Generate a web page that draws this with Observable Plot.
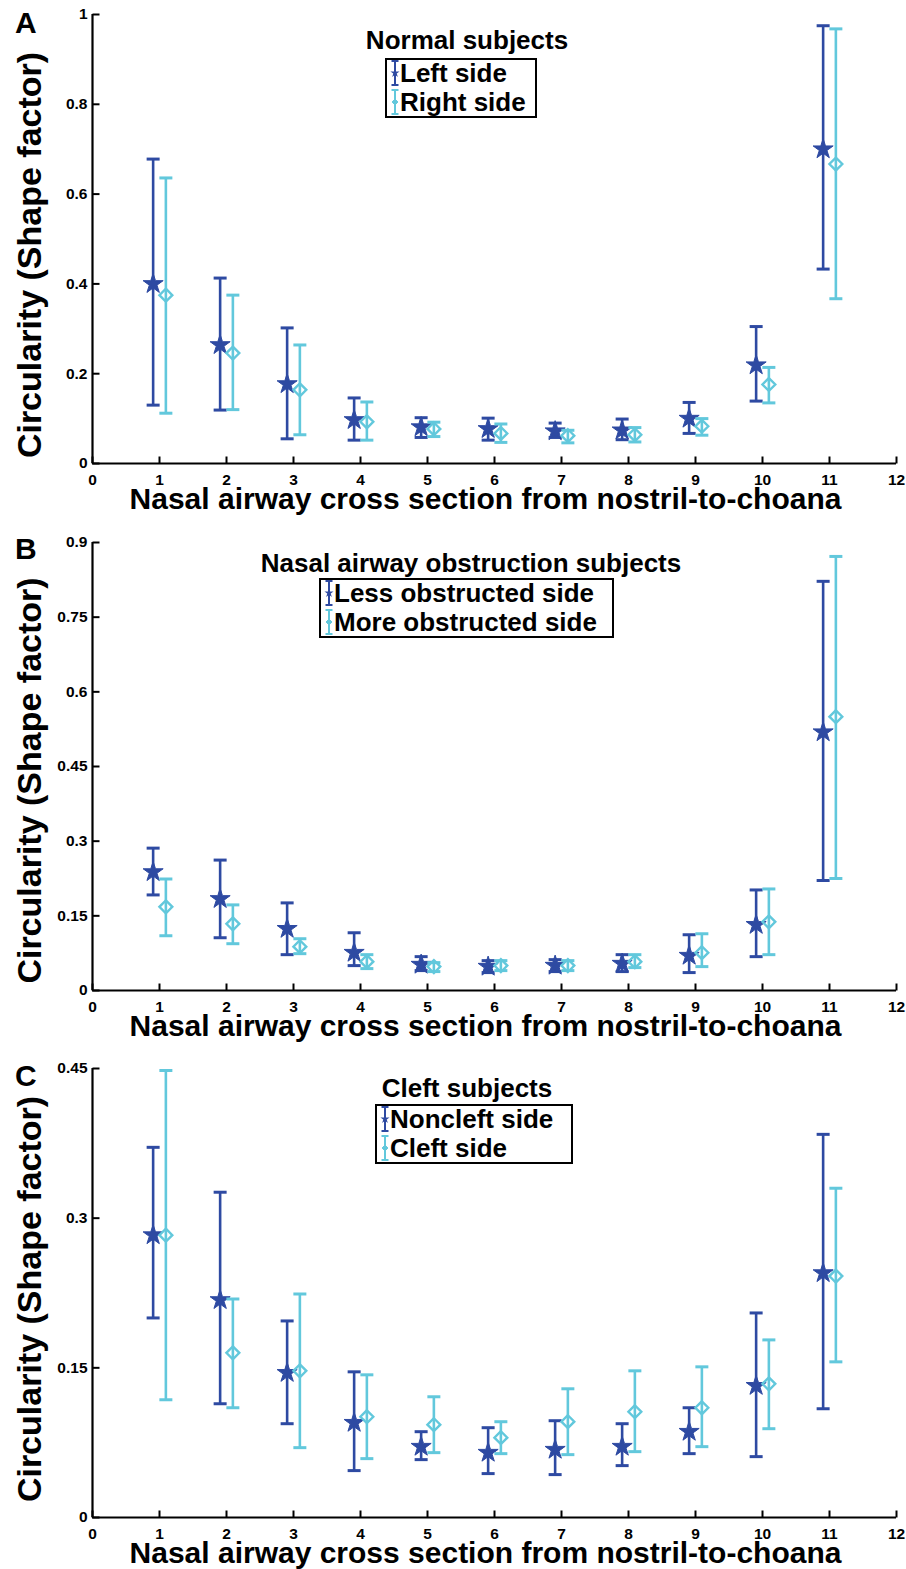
<!DOCTYPE html>
<html><head><meta charset="utf-8">
<script src="https://cdn.jsdelivr.net/npm/d3@7"></script>
<script src="https://cdn.jsdelivr.net/npm/@observablehq/plot@0.6"></script>
<style>
body{margin:0;background:#fff;font-family:"Liberation Sans",Arial,sans-serif;color:#000;}
.panel{position:relative;width:906px;}
.panel svg{display:block;}
.letter{position:absolute;left:15px;font-weight:bold;font-size:30px;line-height:1;}
.ltitle{position:absolute;font-weight:bold;font-size:26px;white-space:nowrap;transform:translate(-50%,-50%);line-height:1;}
.lbox{position:absolute;border:2px solid #000;box-sizing:border-box;background:#fff;}
.lrow{position:absolute;left:0;height:29px;display:flex;align-items:center;font-weight:bold;font-size:26px;white-space:nowrap;line-height:1;}
.lrow svg{margin-left:3px;margin-right:0px;}
</style></head><body>
<div id="root"></div>
<script>
// ---------- data ----------
const sections = [1, 2, 3, 4, 5, 6, 7, 8, 9, 10, 11];
const xTicks = [0, 1, 2, 3, 4, 5, 6, 7, 8, 9, 10, 11, 12];
const xLabel = "Nasal airway cross section from nostril-to-choana";
const yLabel = "Circularity (Shape factor)";

// Panel A – Normal subjects
const titleA = "Normal subjects";
const seriesA = ["Left side", "Right side"];
const yTicksA = [0, 0.2, 0.4, 0.6, 0.8, 1];
const normalLeftMean  = [0.400, 0.264, 0.177, 0.097, 0.081, 0.077, 0.072, 0.074, 0.100, 0.219, 0.700];
const normalLeftLow   = [0.130, 0.119, 0.055, 0.052, 0.058, 0.052, 0.058, 0.053, 0.067, 0.139, 0.433];
const normalLeftHigh  = [0.678, 0.413, 0.302, 0.146, 0.102, 0.101, 0.090, 0.099, 0.136, 0.305, 0.975];
const normalRightMean = [0.375, 0.246, 0.164, 0.093, 0.077, 0.067, 0.062, 0.064, 0.083, 0.176, 0.667];
const normalRightLow  = [0.112, 0.120, 0.064, 0.052, 0.060, 0.047, 0.046, 0.048, 0.063, 0.135, 0.367];
const normalRightHigh = [0.636, 0.375, 0.264, 0.137, 0.092, 0.088, 0.074, 0.080, 0.100, 0.214, 0.968];

// Panel B – Nasal airway obstruction subjects
const titleB = "Nasal airway obstruction subjects";
const seriesB = ["Less obstructed side", "More obstructed side"];
const yTicksB = [0, 0.15, 0.3, 0.45, 0.6, 0.75, 0.9];
const obsLessMean  = [0.238, 0.184, 0.124, 0.076, 0.052, 0.048, 0.050, 0.054, 0.070, 0.132, 0.519];
const obsLessLow   = [0.192, 0.106, 0.072, 0.050, 0.040, 0.036, 0.038, 0.038, 0.036, 0.068, 0.221];
const obsLessHigh  = [0.286, 0.262, 0.176, 0.116, 0.068, 0.060, 0.062, 0.072, 0.112, 0.202, 0.822];
const obsMoreMean  = [0.168, 0.134, 0.088, 0.058, 0.048, 0.050, 0.050, 0.058, 0.076, 0.138, 0.550];
const obsMoreLow   = [0.110, 0.094, 0.074, 0.044, 0.038, 0.040, 0.040, 0.046, 0.048, 0.072, 0.225];
const obsMoreHigh  = [0.224, 0.172, 0.104, 0.072, 0.056, 0.060, 0.060, 0.072, 0.114, 0.204, 0.872];

// Panel C – Cleft subjects
const titleC = "Cleft subjects";
const seriesC = ["Noncleft side", "Cleft side"];
const yTicksC = [0, 0.15, 0.3, 0.45];
const noncleftMean = [0.283, 0.218, 0.145, 0.095, 0.071, 0.065, 0.068, 0.071, 0.086, 0.132, 0.245];
const noncleftLow  = [0.200, 0.114, 0.094, 0.047, 0.058, 0.044, 0.043, 0.052, 0.064, 0.061, 0.109];
const noncleftHigh = [0.371, 0.326, 0.197, 0.146, 0.086, 0.090, 0.097, 0.094, 0.110, 0.205, 0.384];
const cleftMean    = [0.283, 0.165, 0.147, 0.101, 0.093, 0.080, 0.096, 0.106, 0.110, 0.134, 0.242];
const cleftLow     = [0.118, 0.110, 0.070, 0.059, 0.065, 0.064, 0.063, 0.066, 0.071, 0.089, 0.156];
const cleftHigh    = [0.448, 0.219, 0.224, 0.143, 0.121, 0.096, 0.129, 0.147, 0.151, 0.178, 0.330];

// ---------- styling ----------
const DARK = "#2E4AA2";
const LIGHT = "#62C8DC";
const FONT = "'Liberation Sans', Arial, sans-serif";
const OFFSET = 0.095;

const capSymbol = {draw(ctx) { ctx.moveTo(-6.5, 0); ctx.lineTo(6.5, 0); }};
const tickUp = {draw(ctx) { ctx.moveTo(0, 0); ctx.lineTo(0, -7); }};
const tickRight = {draw(ctx) { ctx.moveTo(0, 0); ctx.lineTo(7, 0); }};

function rows(mean, low, high) {
  return sections.map((s, i) => ({s, mean: mean[i], low: low[i], high: high[i]}));
}

function seriesMarks(data, dx, color, isStar) {
  const x = d => d.s + dx;
  const marks = [
    Plot.ruleX(data, {x, y1: "low", y2: "high", stroke: color, strokeWidth: 2.6}),
    Plot.dot(data, {x, y: "low", symbol: capSymbol, r: 5, fill: "none", stroke: color, strokeWidth: 3}),
    Plot.dot(data, {x, y: "high", symbol: capSymbol, r: 5, fill: "none", stroke: color, strokeWidth: 3})
  ];
  if (isStar) marks.push(Plot.dot(data, {x, y: "mean", symbol: "star", r: 6.3, fill: color, stroke: color, strokeWidth: 1}));
  else marks.push(Plot.dot(data, {x, y: "mean", symbol: "diamond2", r: 5.8, fill: "none", stroke: color, strokeWidth: 2.4}));
  return marks;
}

function legendSymbol(color, isStar) {
  const ns = "http://www.w3.org/2000/svg";
  const svg = document.createElementNS(ns, "svg");
  svg.setAttribute("width", 10); svg.setAttribute("height", 29);
  const g = (tag, attrs) => { const e = document.createElementNS(ns, tag); for (const k in attrs) e.setAttribute(k, attrs[k]); svg.appendChild(e); return e; };
  g("line", {x1: 5, x2: 5, y1: 3, y2: 27, stroke: color, "stroke-width": 2});
  g("line", {x1: 1.5, x2: 8.5, y1: 3, y2: 3, stroke: color, "stroke-width": 2});
  g("line", {x1: 1.5, x2: 8.5, y1: 27, y2: 27, stroke: color, "stroke-width": 2});
  if (isStar) g("path", {d: d3.symbol(d3.symbolStar, 26)(), transform: "translate(5,15)", fill: color});
  else g("path", {d: d3.symbol(d3.symbolDiamond2, 22)(), transform: "translate(5,15)", fill: color, stroke: color});
  return svg;
}

function panel(cfg) {
  const wrap = document.createElement("div");
  wrap.className = "panel";
  const left = rows(...cfg.left), right = rows(...cfg.right);
  const ymax = cfg.yTicks[cfg.yTicks.length - 1];
  const chart = Plot.plot({
    width: 906, height: cfg.height,
    marginLeft: 92, marginRight: 10, marginTop: cfg.marginTop, marginBottom: cfg.marginBottom,
    x: {domain: [0, 12], axis: null},
    y: {domain: [0, ymax], axis: null},
    style: {fontFamily: FONT, fontWeight: "bold", color: "#000", background: "#fff", overflow: "visible"},
    marks: [
      Plot.text(xTicks, {x: d => d, y: 0, text: d => String(d), dy: 17, textAnchor: "middle", lineAnchor: "middle", fontSize: 15.5, fontWeight: "bold"}),
      Plot.text(cfg.yTicks, {x: 0, y: d => d, text: d => String(d), dx: -5, textAnchor: "end", lineAnchor: "middle", fontSize: 15.5, fontWeight: "bold"}),
      Plot.dot(xTicks, {x: d => d, y: 0, symbol: tickUp, r: 5, fill: "none", stroke: "#000", strokeWidth: 2}),
      Plot.dot(cfg.yTicks, {x: 0, y: d => d, symbol: tickRight, r: 5, fill: "none", stroke: "#000", strokeWidth: 2}),
      Plot.ruleX([0], {stroke: "#000", strokeWidth: 2.2}),
      Plot.ruleY([0], {stroke: "#000", strokeWidth: 2.2}),
      ...seriesMarks(left, -OFFSET, DARK, true),
      ...seriesMarks(right, OFFSET, LIGHT, false),
      Plot.text([yLabel], {frameAnchor: "left", dx: -62, dy: cfg.ylabelDy, rotate: -90, textAnchor: "middle", lineAnchor: "middle", fontSize: 34, fontWeight: "bold"}),
      Plot.text([xLabel], {frameAnchor: "bottom", dx: -9, dy: 36, textAnchor: "middle", lineAnchor: "middle", fontSize: 30, fontWeight: "bold"})
    ]
  });
  wrap.appendChild(chart);

  const letter = document.createElement("div");
  letter.className = "letter"; letter.style.top = cfg.letterTop + "px"; letter.textContent = cfg.letter;
  wrap.appendChild(letter);

  const title = document.createElement("div");
  title.className = "ltitle"; title.style.left = cfg.title.x + "px"; title.style.top = cfg.title.y + "px";
  title.textContent = cfg.titleText;
  wrap.appendChild(title);

  const box = document.createElement("div");
  box.className = "lbox";
  Object.assign(box.style, {left: cfg.box.x + "px", top: cfg.box.y + "px", width: cfg.box.w + "px", height: cfg.box.h + "px"});
  cfg.series.forEach((name, i) => {
    const row = document.createElement("div");
    row.className = "lrow"; row.style.top = (i === 0 ? -2 : 27) + "px";
    row.appendChild(legendSymbol(i === 0 ? DARK : LIGHT, i === 0));
    const t = document.createElement("span"); t.textContent = name; row.appendChild(t);
    box.appendChild(row);
  });
  wrap.appendChild(box);
  return wrap;
}

const root = document.getElementById("root");
// panel A occupies 0–520, B 520–1048, C 1048–1569
root.appendChild(panel({
  height: 520, marginTop: 14, marginBottom: 57, yTicks: yTicksA, ylabelDy: 16,
  left: [normalLeftMean, normalLeftLow, normalLeftHigh],
  right: [normalRightMean, normalRightLow, normalRightHigh],
  letter: "A", letterTop: 8, titleText: titleA, series: seriesA,
  title: {x: 467, y: 40}, box: {x: 385, y: 58, w: 152, h: 60}
}));
root.appendChild(panel({
  height: 528, marginTop: 22, marginBottom: 58, yTicks: yTicksB, ylabelDy: 14,
  left: [obsLessMean, obsLessLow, obsLessHigh],
  right: [obsMoreMean, obsMoreLow, obsMoreHigh],
  letter: "B", letterTop: 14, titleText: titleB, series: seriesB,
  title: {x: 471, y: 43}, box: {x: 319, y: 58, w: 295, h: 60}
}));
root.appendChild(panel({
  height: 521, marginTop: 20, marginBottom: 52, yTicks: yTicksC, ylabelDy: 6,
  left: [noncleftMean, noncleftLow, noncleftHigh],
  right: [cleftMean, cleftLow, cleftHigh],
  letter: "C", letterTop: 13, titleText: titleC, series: seriesC,
  title: {x: 467, y: 40}, box: {x: 375, y: 56, w: 198, h: 60}
}));
</script>
</body></html>
